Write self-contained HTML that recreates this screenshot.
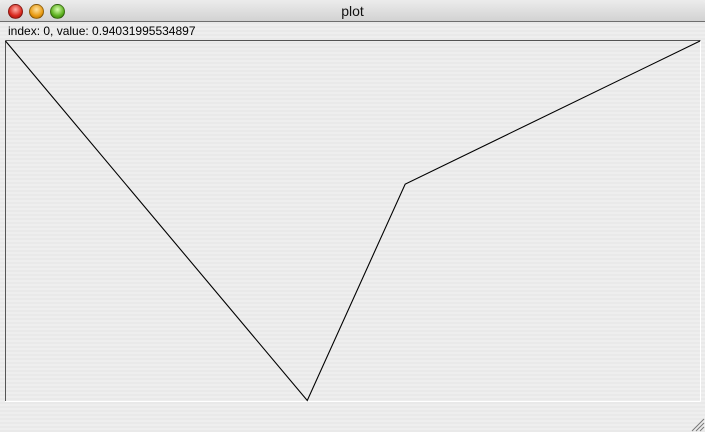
<!DOCTYPE html>
<html><head><meta charset="utf-8"><style>
html,body{margin:0;padding:0;width:705px;height:432px;overflow:hidden;background:#ececec;font-family:"Liberation Sans",sans-serif}
#win{position:absolute;left:0;top:0;width:705px;height:432px;border-radius:5px 5px 0 0;overflow:hidden;
background:repeating-linear-gradient(to bottom,#eeeeee 0px,#eeeeee 2px,#e9e9e9 2px,#e9e9e9 4px)}
#titlebar{position:absolute;left:0;top:0;width:705px;height:21px;background:linear-gradient(#ececec,#d2d2d2);border-bottom:1px solid #6e6e6e}
#title{position:absolute;left:0;width:705px;top:3px;text-align:center;font-size:14px;color:#111}
.btn{position:absolute;top:4px;width:13px;height:13px;border-radius:50%;border:1px solid rgba(0,0,0,.35)}
#label{position:absolute;left:8px;top:24px;font-size:12px;color:#000}
</style></head><body>
<div id="win">
<div id="titlebar">
<div class="btn" style="left:8px;background:radial-gradient(circle at 50% 35%,#ffb0a8,#d8261c 60%,#8e1510)"></div>
<div class="btn" style="left:29px;background:radial-gradient(circle at 50% 35%,#ffe2a0,#e89a12 60%,#a06000)"></div>
<div class="btn" style="left:50px;background:radial-gradient(circle at 50% 35%,#d8ffb0,#5cb01e 60%,#2e6a08)"></div>
<div id="title">plot</div>
</div>
<div id="label">index: 0, value: 0.94031995534897</div>
<svg id="chart" width="705" height="432" style="position:absolute;left:0;top:0">
<line x1="5.5" y1="40.5" x2="700.5" y2="40.5" stroke="#555" stroke-width="1"/>
<line x1="5.5" y1="40.5" x2="5.5" y2="401" stroke="#555" stroke-width="1"/>
<line x1="700.5" y1="41" x2="700.5" y2="401.5" stroke="#fff" stroke-width="1"/>
<line x1="5" y1="401.5" x2="700.5" y2="401.5" stroke="#fff" stroke-width="1"/>
<g>
<line x1="692" y1="431" x2="704" y2="419" stroke="#777"/><line x1="696" y1="431" x2="704" y2="423" stroke="#777"/><line x1="700" y1="431" x2="704" y2="427" stroke="#777"/>
</g>
</svg>
</div>
<script>
const xPositions = [0, 0.4345, 0.5755, 1];
const values = [0.9403, 0.0, 0.566, 0.9403];
const yMin = 0, yMax = 0.9403;
function sx(t){return 5.5 + t*(700-5.5);}
function sy(v){return 400.5 - (v-yMin)/(yMax-yMin)*(400.5-41);}
const svg=document.getElementById('chart');
const pl=document.createElementNS('http://www.w3.org/2000/svg','polyline');
pl.setAttribute('points', values.map((v,i)=>sx(xPositions[i])+','+sy(v)).join(' '));
pl.setAttribute('fill','none');pl.setAttribute('stroke','#000');pl.setAttribute('stroke-width','1.1');


svg.appendChild(pl);
</script>
</body></html>
